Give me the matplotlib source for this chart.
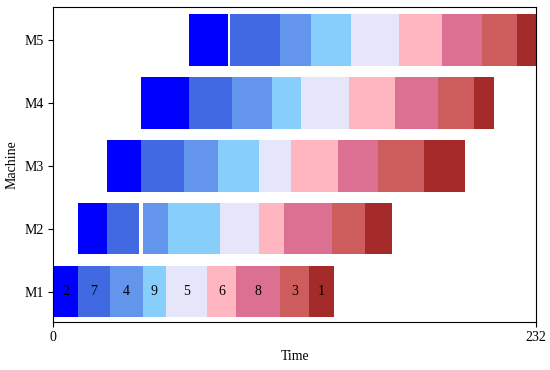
import matplotlib
matplotlib.use("Agg")
import matplotlib.pyplot as plt

plt.rcParams['font.family'] = ['Liberation Serif', 'DejaVu Serif']

machines = ["M1", "M2", "M3", "M4", "M5"]
jobs = [2, 7, 4, 9, 5, 6, 8, 3, 1]
job_colors = ["blue", "royalblue", "cornflowerblue", "lightskyblue", "lavender",
              "lightpink", "palevioletred", "indianred", "brown"]

m1_start = [0, 12, 27, 43, 54, 74, 88, 109, 123]
m1_end = [12, 27, 43, 54, 74, 88, 109, 123, 135]
m2_start = [12, 26, 43, 55, 80, 99, 111, 134, 150]
m2_end = [26, 41, 55, 80, 99, 111, 134, 150, 163]
m3_start = [26, 42, 63, 79, 99, 114, 137, 156, 178]
m3_end = [42, 63, 79, 99, 114, 137, 156, 178, 198]
m4_start = [42, 65, 86, 105, 119, 142, 164, 185, 202]
m4_end = [65, 86, 105, 119, 142, 164, 185, 202, 212]
m5_start = [65, 85, 109, 124, 143, 166, 187, 206, 223]
m5_end = [84, 109, 124, 143, 166, 187, 206, 223, 232]

starts = [m1_start, m2_start, m3_start, m4_start, m5_start]
ends = [m1_end, m2_end, m3_end, m4_end, m5_end]
makespan = 232

fig = plt.figure(figsize=(5.5, 3.7), dpi=100)
ax = fig.add_axes([0.097, 0.1305, 0.8775, 0.8495])

for i, m in enumerate(machines):
    for j, job in enumerate(jobs):
        s = starts[i][j]
        e = ends[i][j]
        ax.barh(i, e - s, left=s, height=0.82, color=job_colors[j], edgecolor='none')
        if i == 0:
            ax.text(s + (e - s) / 2, i, str(job), ha='center', va='center',
                    fontsize=10, color='black')

ax.set_xlim(0, makespan)
ax.set_ylim(-0.48, 4.52)
ax.set_xticks([0, makespan])
ax.set_yticks(range(len(machines)))
ax.set_yticklabels(machines)
ax.tick_params(labelsize=10)
ax.set_xlabel("Time", fontsize=10)
ax.set_ylabel("Machine", fontsize=10)

fig.savefig("out.png", dpi=100)
